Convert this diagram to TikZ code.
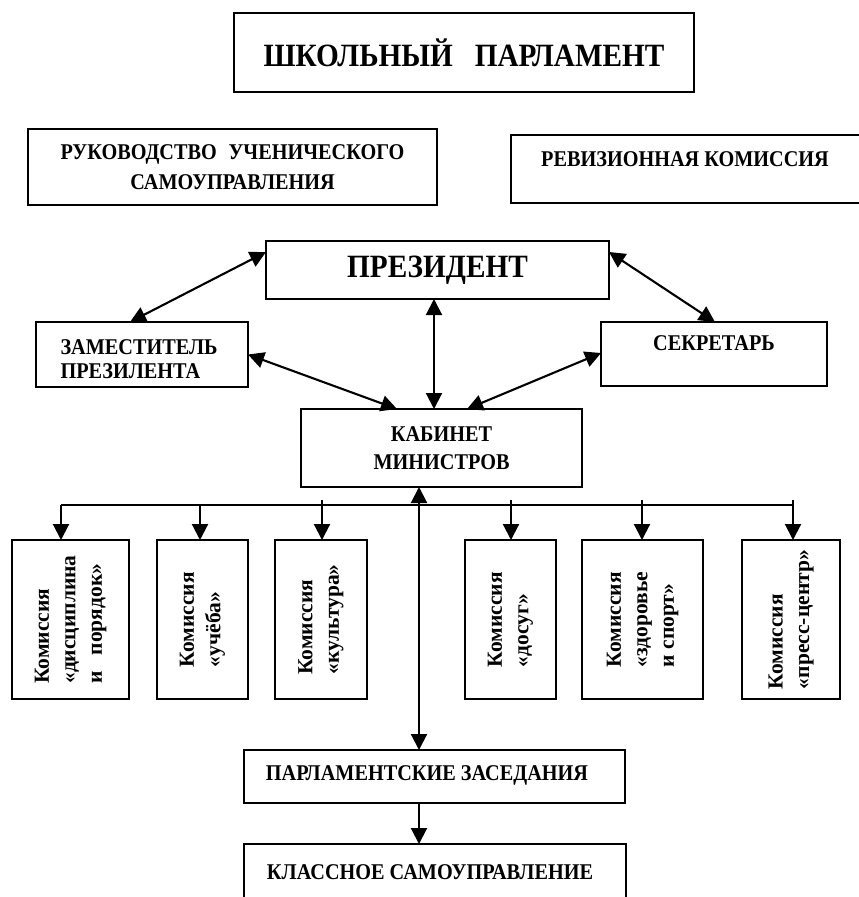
\documentclass[tikz,border=0pt]{standalone}
\usepackage{fontspec}
\setmainfont{Liberation Serif}
\newfontfamily\tnr[FakeStretch=0.9]{Liberation Serif}
\usetikzlibrary{arrows.meta}
\begin{document}
\begin{tikzpicture}[x=1pt,y=-1pt,
  box/.style={draw, line width=2pt, inner sep=0pt, outer sep=0pt},
  big/.style={font=\tnr\fontsize{32.5}{36}\selectfont\bfseries},
  mid/.style={font=\tnr\fontsize{22.5}{27}\selectfont\bfseries},
  kom/.style={font=\fontsize{21.5}{26.5}\selectfont\bfseries, rotate=90, align=left, inner sep=0pt},
  tip/.tip={Triangle[width=16pt,length=16pt]},
  lnk/.style={line width=2.1pt, tip-tip},
  one/.style={line width=2.1pt, -tip},
]
\useasboundingbox (0,0) rectangle (859,897);
\clip (0,0) rectangle (859,897);

% top boxes
\node[box, minimum width=460pt, minimum height=79pt, big] (parl) at (464,52.5) {ШКОЛЬНЫЙ\hspace{0.45em} ПАРЛАМЕНТ};
\node[box, minimum width=409pt, minimum height=76pt, align=center, font=\tnr\fontsize{22.5}{30}\selectfont\bfseries] (ruk) at (232.5,167) {РУКОВОДСТВО\hspace{0.3em} УЧЕНИЧЕСКОГО\\САМОУПРАВЛЕНИЯ};
\node[box, minimum width=369pt, minimum height=68pt] (rev) at (695.5,169) {};
\node[mid] (revt) at (685,159) {РЕВИЗИОННАЯ КОМИССИЯ};

% president level
\node[box, minimum width=343pt, minimum height=58pt, big] (pres) at (437.5,270) {ПРЕЗИДЕНТ};
\node[box, minimum width=212pt, minimum height=65pt] (zam) at (142,354.5) {};
\node[align=left, anchor=west, font=\tnr\fontsize{22.5}{24}\selectfont\bfseries] (zamt) at (57,359) {ЗАМЕСТИТЕЛЬ\\ПРЕЗИЛЕНТА};
\node[box, minimum width=226pt, minimum height=64pt] (sek) at (714,354) {};
\node[mid] (sekt) at (714,343) {СЕКРЕТАРЬ};
\node[box, minimum width=281pt, minimum height=78pt, align=center, font=\tnr\fontsize{22.5}{28}\selectfont\bfseries] (kab) at (441.5,448) {КАБИНЕТ\\МИНИСТРОВ};

% commissions
\foreach \n/\cx/\w in {c1/70.5/117, c2/202.5/91, c3/321/92, c4/510.5/91, c5/642.5/121, c6/791/98}
  \node[box, minimum width=\w pt, minimum height=159pt] (\n) at (\cx,619.5) {};
\node[kom] (c1t) at (c1) {Комиссия\\«дисциплина\\и\hspace{0.5em} порядок»};
\node[kom] (c2t) at (c2) {Комиссия\\«учёба»};
\node[kom] (c3t) at (c3) {Комиссия\\«культура»};
\node[kom] (c4t) at (c4) {Комиссия\\«досуг»};
\node[kom] (c5t) at (c5) {Комиссия\\«здоровье\\и спорт»};
\node[kom] (c6t) at (c6) {Комиссия\\«пресс-центр»};

% bottom
\node[box, minimum width=381pt, minimum height=53pt] (pz) at (434.5,776.5) {};
\node[mid] (pzt) at (427,775) {ПАРЛАМЕНТСКИЕ ЗАСЕДАНИЯ};
\node[box, minimum width=382pt, minimum height=76pt] (ks) at (435,882) {};
\node[mid] (kst) at (430,872) {КЛАССНОЕ САМОУПРАВЛЕНИЕ};

% connectors
\draw[lnk] ([yshift=-11pt]pres.north west) -- ([xshift=-12pt]zam.north);
\draw[lnk] ([yshift=-11pt]pres.north east) -- ([xshift=1pt]sek.north);
\draw[lnk] ([xshift=-3.5pt]pres.south) -- ([xshift=-7.5pt]kab.north);
\draw[lnk] (zam.east) -- ([xshift=-44.5pt]kab.north);
\draw[lnk] ([yshift=1pt]sek.west) -- ([xshift=25.5pt]kab.north);

\draw[lnk] ([xshift=-22.5pt]kab.south) -- ([xshift=-15.5pt]pz.north);
\draw[one] ([xshift=-15.5pt]pz.south) -- ([xshift=-16pt]ks.north);

\coordinate (b1) at (61,505);
\coordinate (b2) at (200,505);
\coordinate (b3) at (322,500);
\coordinate (b4) at (511,500);
\coordinate (b5) at (642,500);
\coordinate (b6) at (793,500);
\draw[line width=2.1pt] (b1) -- (b1 -| b6);
\draw[one] (b1) -- (b1 |- c1.north);
\draw[one] (b2) -- (b2 |- c2.north);
\draw[one] (b3) -- (b3 |- c3.north);
\draw[one] (b4) -- (b4 |- c4.north);
\draw[one] (b5) -- (b5 |- c5.north);
\draw[one] (b6) -- (b6 |- c6.north);
\end{tikzpicture}
\end{document}
